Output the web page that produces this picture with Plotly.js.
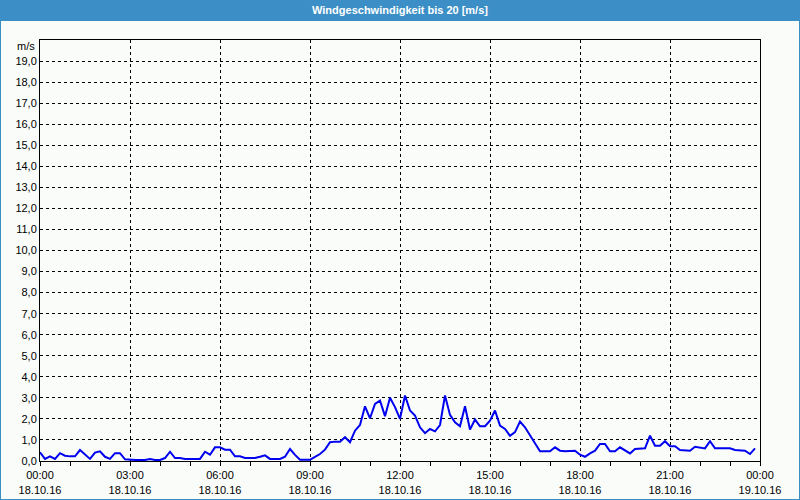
<!DOCTYPE html>
<html>
<head>
<meta charset="utf-8">
<script src="https://cdn.plot.ly/plotly-3.0.1.min.js"></script>
<style>
html,body{margin:0;padding:0;background:#fafcfa;}
#chart{width:800px;height:500px;}
</style>
</head>
<body>
<div id="chart"></div>
<script>
// ---- data (10-minute samples, 18.10.16 00:00 .. 23:50) ----
var startTime = '2016-10-18';
var sampleMinutes = 10;
var windSpeed = [
  0.41, 0.10, 0.22, 0.10, 0.37, 0.25, 0.22, 0.22, 0.52, 0.30,
  0.10, 0.40, 0.46, 0.20, 0.10, 0.37, 0.37, 0.08, 0.05, 0.05,
  0.05, 0.05, 0.10, 0.05, 0.05, 0.14, 0.44, 0.14, 0.14, 0.10,
  0.10, 0.10, 0.10, 0.44, 0.30, 0.65, 0.65, 0.54, 0.54, 0.22,
  0.22, 0.14, 0.14, 0.14, 0.20, 0.27, 0.10, 0.10, 0.10, 0.20,
  0.57, 0.29, 0.06, 0.06, 0.06, 0.20, 0.33, 0.54, 0.89, 0.92,
  0.92, 1.13, 0.89, 1.44, 1.71, 2.60, 2.03, 2.71, 2.87, 2.13,
  3.00, 2.56, 2.00, 3.11, 2.40, 2.16, 1.60, 1.32, 1.52, 1.41,
  1.71, 3.11, 2.19, 1.84, 1.65, 2.60, 1.49, 1.97, 1.65, 1.65,
  1.92, 2.40, 1.68, 1.52, 1.20, 1.37, 1.87, 1.60, 1.20, 0.84,
  0.46, 0.46, 0.46, 0.65, 0.49, 0.46, 0.49, 0.49, 0.30, 0.20,
  0.36, 0.49, 0.81, 0.81, 0.46, 0.46, 0.65, 0.52, 0.36, 0.57,
  0.60, 0.60, 1.20, 0.73, 0.73, 0.94, 0.70, 0.70, 0.52, 0.52,
  0.49, 0.68, 0.65, 0.60, 0.94, 0.60, 0.60, 0.60, 0.60, 0.52,
  0.49, 0.49, 0.33, 0.60
];
var xTickVals = ['2016-10-18 00:00','2016-10-18 03:00','2016-10-18 06:00','2016-10-18 09:00',
  '2016-10-18 12:00','2016-10-18 15:00','2016-10-18 18:00','2016-10-18 21:00','2016-10-19 00:00'];
var xTickText = ['00:00<br>18.10.16','03:00<br>18.10.16','06:00<br>18.10.16','09:00<br>18.10.16',
  '12:00<br>18.10.16','15:00<br>18.10.16','18:00<br>18.10.16','21:00<br>18.10.16','00:00<br>19.10.16'];
var yTickVals = [0,1,2,3,4,5,6,7,8,9,10,11,12,13,14,15,16,17,18,19];
var yTickText = ['0,0','1,0','2,0','3,0','4,0','5,0','6,0','7,0','8,0','9,0','10,0',
  '11,0','12,0','13,0','14,0','15,0','16,0','17,0','18,0','19,0'];
var titleText = 'Windgeschwindigkeit bis 20 [m/s]';
var unitText = 'm/s';

// timestamps for the samples
function pad(n){return (n<10?'0':'')+n;}
var times = windSpeed.map(function(_, i){
  var m = i*sampleMinutes;
  return startTime + ' ' + pad(Math.floor(m/60)) + ':' + pad(m%60);
});

// ---- layout geometry ----
var W = 800, H = 500, mL = 40, mR = 40, mT = 40, mB = 39;
var pw = W - mL - mR, ph = H - mT - mB;
function px(x){ return (x - mL)/pw; }
function py(y){ return (H - mB - y)/ph; }

var blue = '#3c8fc6';
var font = 'Liberation Sans, Arial, sans-serif';

var trace = {
  x: times, y: windSpeed, type: 'scatter', mode: 'lines',
  line: {color: '#0000f0', width: 2}, hoverinfo: 'skip'
};

var layout = {
  width: W, height: H,
  margin: {l: mL, r: mR, t: mT, b: mB, pad: 0},
  paper_bgcolor: '#fafcfa', plot_bgcolor: '#fafcfa',
  showlegend: false,
  font: {family: font, size: 11, color: '#000'},
  title: {text: titleText, font: {family: font, size: 11, color: '#fff', weight: 'bold'},
          x: 0.5, xanchor: 'center', y: 1 - 10.5/H, yanchor: 'middle', xref: 'paper', yref: 'container'},
  xaxis: {
    type: 'date', range: ['2016-10-18 00:00', '2016-10-19 00:00'],
    tickmode: 'array', tickvals: xTickVals, ticktext: xTickText,
    showgrid: true, gridcolor: '#000', gridwidth: 1, griddash: '3px,3px',
    showline: true, linecolor: '#000', linewidth: 1, mirror: true,
    ticks: 'outside', ticklen: 4, tickcolor: '#000',
    minor: {dtick: 3600000, tick0: '2016-10-18 00:00', ticks: 'outside', ticklen: 4, tickcolor: '#000', showgrid: false},
    zeroline: false, fixedrange: true,
    tickfont: {family: font, size: 11, color: '#000'}
  },
  yaxis: {
    range: [0, 20], tickmode: 'array', tickvals: yTickVals, ticktext: yTickText,
    showgrid: true, gridcolor: '#000', gridwidth: 1, griddash: '3px,3px',
    showline: true, linecolor: '#000', linewidth: 1, mirror: true,
    ticks: '', ticklen: 0,
    zeroline: false, fixedrange: true,
    tickfont: {family: font, size: 11, color: '#000'}
  },
  shapes: [
    // title bar
    {type: 'rect', xref: 'paper', yref: 'paper', x0: px(0), x1: px(W), y0: py(21), y1: py(0),
     fillcolor: blue, line: {width: 0}, layer: 'below'},
    // outer frame
    {type: 'line', xref: 'paper', yref: 'paper', x0: px(0.5), x1: px(0.5), y0: py(0), y1: py(H),
     line: {color: blue, width: 1}},
    {type: 'line', xref: 'paper', yref: 'paper', x0: px(W-0.5), x1: px(W-0.5), y0: py(0), y1: py(H),
     line: {color: blue, width: 1}},
    {type: 'line', xref: 'paper', yref: 'paper', x0: px(0), x1: px(W), y0: py(H-0.5), y1: py(H-0.5),
     line: {color: blue, width: 1}}
  ],
  annotations: [
    {text: unitText, xref: 'paper', yref: 'paper', x: px(37), y: py(46), xanchor: 'right', yanchor: 'middle',
     showarrow: false, font: {family: font, size: 11, color: '#000'}}
  ]
};

Plotly.newPlot('chart', [trace], layout, {staticPlot: true, displayModeBar: false});
</script>
</body>
</html>
